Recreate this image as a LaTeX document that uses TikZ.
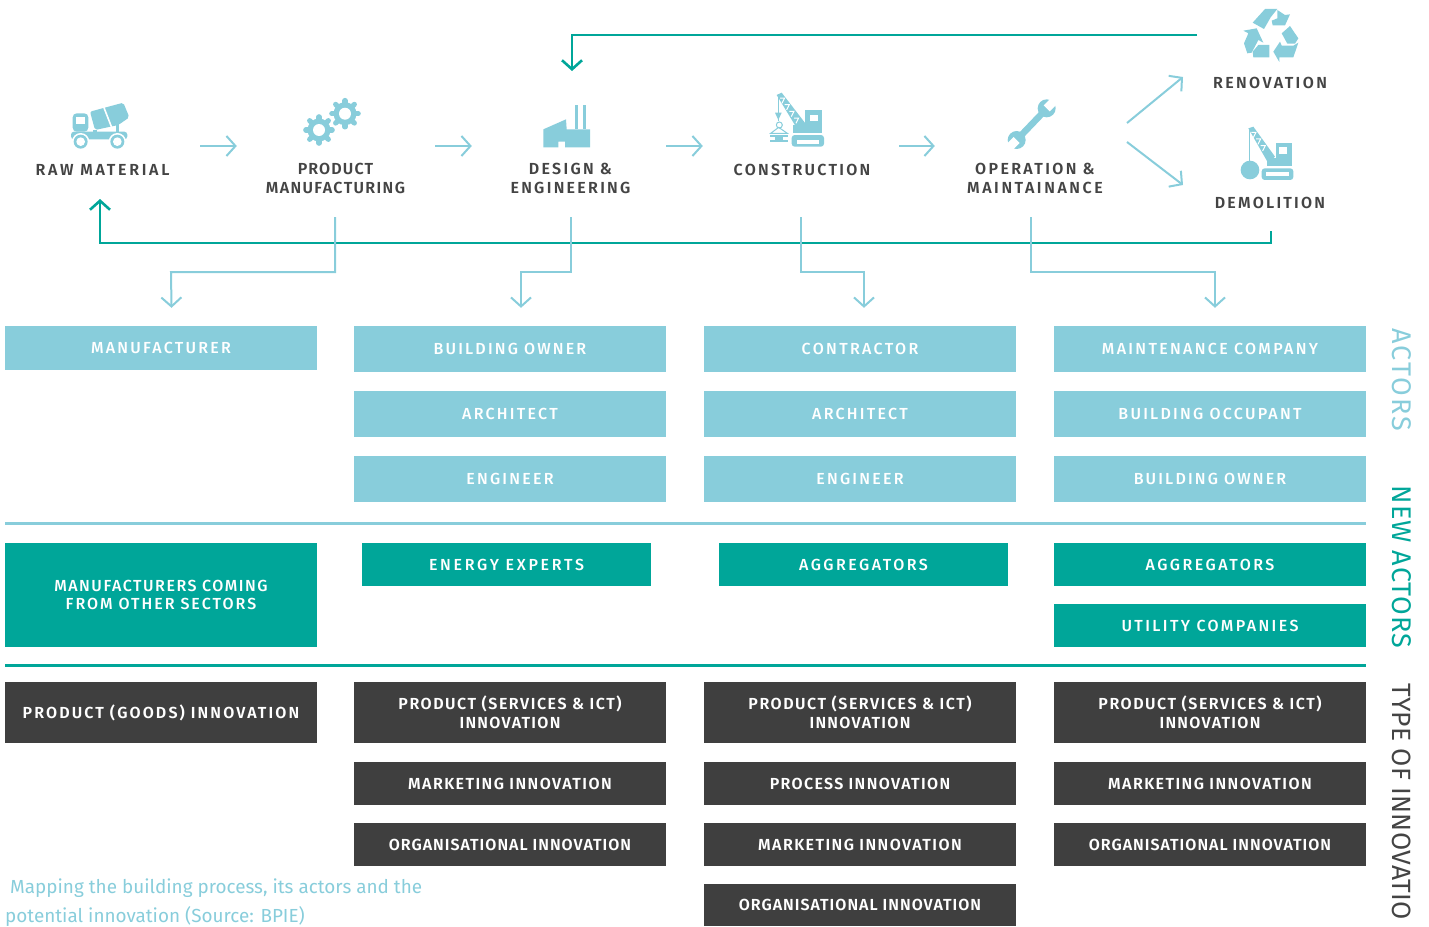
\documentclass[tikz,border=0pt]{standalone}
\usepackage{fontspec}
\setmainfont{Fira Sans}
\newfontfamily\din[LetterSpace=8]{Fira Sans Medium}
\newfontfamily\dinsemi[LetterSpace=8]{Fira Sans SemiBold}
\newfontfamily\dinreg[LetterSpace=6]{Fira Sans}
\usetikzlibrary{arrows.meta,calc}
\definecolor{lightc}{HTML}{88CDDB}
\definecolor{tealc}{HTML}{00A699}
\definecolor{darkc}{HTML}{3F3F3F}
\definecolor{textc}{HTML}{444444}
\newcommand{\ls}[1]{\addfontfeature{LetterSpace=#1}}
\newcommand{\dn}[2]{\raisebox{-1.2pt}{\ls{#1}#2}}
\tikzset{
  box/.style={inner sep=0pt,text=white,align=center,font=\din\fontsize{16}{19}\selectfont},
  lightbox/.style={box,fill=lightc},
  tealbox/.style={box,fill=tealc},
  darkbox/.style={box,fill=darkc,font=\dinsemi\fontsize{16}{19}\selectfont},
  stagearea/.style={minimum width=196pt,minimum height=142pt,inner sep=0pt},
  steplabel/.style={text=textc,align=center,inner sep=0pt,font=\dinsemi\fontsize{16}{19}\selectfont},
  flow/.style={draw=lightc,line width=2pt,-{Straight Barb[length=9pt,width=20pt,line width=2pt]}},
  loopline/.style={draw=tealc,line width=2.6pt,-{Straight Barb[length=9pt,width=20pt,line width=2.6pt]}},
  sidetext/.style={rotate=-90,anchor=west,inner sep=0pt,font=\dinreg\fontsize{27}{30}\selectfont},
  icon/.style={fill=lightc,draw=none},
  zoomed/.style={x=0.33333pt,y=-0.33333pt}
}
\newcommand{\bx}[7][lightbox]{%
  \node[#1,minimum width={#5-#3},minimum height={#6-#4}] (#2) at ({(#3+#5)/2},{(#4+#6)/2}) {#7};}
\newcommand{\gearicon}[2]{%
  \foreach \a in {0,45,...,315}{\draw[lightc,line width=5.2pt,line cap=round] (#1,#2) -- ++(\a:13.2);}
  \fill[lightc] (#1,#2) circle (11.5);
  \fill[white] (#1,#2) circle (6);}
\begin{document}
\begin{tikzpicture}[x=1pt,y=-1pt]
\useasboundingbox (0,0) rectangle (1429,926);

% invisible stage areas that the connectors attach to
\node[stagearea] (rawarea) at (102,146) {};
\node[stagearea] (prodarea) at (335,146) {};
\node[stagearea] (designarea) at (570,146) {};
\node[stagearea] (constrarea) at (801,146) {};
\node[stagearea] (operarea) at (1033,146) {};

% stage labels
\node[steplabel] (raw) at (102.5,169.5) {\ls{17}RAW MATERIAL};
\node[steplabel] (prod) at (335.5,178) {\ls{7}PRODUCT\\\ls{8.5}MANUFACTURING};
\node[steplabel] (design) at (570.5,178) {\ls{14.3}DESIGN \&\\\ls{14.2}ENGINEERING};
\node[steplabel] (constr) at (802,169.5) {\ls{14}CONSTRUCTION};
\node[steplabel] (oper) at (1035,178) {\ls{14.7}OPERATION \&\\\ls{16}MAINTAINANCE};
\node[steplabel] (reno) at (1270,82.5) {\ls{15}RENOVATION};
\node[steplabel] (demo) at (1270,202.5) {\ls{14}DEMOLITION};

% truck
\begin{scope}[shift={(40,80)},zoomed]
  \fill[icon,rounded corners=3pt] (93,178) -- (93,155) -- (262,155) -- (262,178) -- cycle;
  \fill[icon,rounded corners=4pt] (98,155) -- (98,100) -- (145,100) -- (145,155) -- cycle;
  \fill[white] (108,132) -- (108,112) -- (136,112) -- (136,132) -- cycle;
  \fill[icon,rounded corners=2pt] (150,95) -- (250,68) -- (268,112) -- (235,135) -- (165,150) -- cycle;
  \fill[icon] (160,150) rectangle (170,158);
  \fill[icon] (228,130) rectangle (238,158);
  \draw[white,line width=1.6pt] (190,78) -- (218,150);
  \foreach \cx in {122,232}{
    \fill[white] (\cx,185) circle (26);
    \fill[lightc] (\cx,185) circle (21);
    \fill[white] (\cx,185) circle (13);}
\end{scope}

% gears
\gearicon{319}{130}
\gearicon{345}{113.7}

% factory
\begin{scope}[shift={(520,80)},zoomed]
  \fill[icon] (70,148) -- (138,118) -- (140,148) -- (210,148) -- (210,202) -- (135,202) -- (135,185) -- (115,185) -- (115,202) -- (70,202) -- cycle;
  \fill[icon] (165,75) rectangle (175,148);
  \fill[icon] (189,75) rectangle (199,148);
\end{scope}

% construction crane
\begin{scope}[shift={(520,80)},zoomed]
  \fill[icon] (855,90) rectangle (905,158);
  \fill[white] (870,105) rectangle (893,122);
  \fill[icon] (818,135) -- (860,135) -- (860,158) -- (818,158) -- cycle;
  \fill[icon] (770,45) -- (785,38) -- (860,135) -- (835,152) -- cycle;
  \foreach \p/\q in {786/52,800/72,814/92,828/112}{
    \draw[white,line width=1pt] (\p-6,\q+2) -- (\p+8,\q+2) -- (\p+0,\q+18);}
  \fill[icon,rounded corners=3pt] (815,165) rectangle (912,200);
  \fill[white] (830,180) rectangle (898,192);
  \draw[lightc,line width=1pt] (775,42) -- (775,122);
  \fill[icon] (765,98) -- (785,98) -- (775,120) -- cycle;
  \draw[lightc,line width=1pt] (778,135) circle (9);
  \draw[lightc,line width=1pt] (752,160) -- (776,142) -- (802,160) -- cycle;
  \fill[icon] (750,165) rectangle (805,172);
  \fill[icon] (765,172) rectangle (790,180);
  \fill[icon] (750,180) rectangle (805,187);
\end{scope}

% wrench
\begin{scope}[shift={(1000,0)},zoomed]
  \draw[lightc,line width=6.5pt] (138,328) -- (52,418);
  \fill[lightc] (140,325) circle (27);
  \fill[lightc] (50,420) circle (27);
  \fill[white] (149,334) -- (177,306) -- (159,288) -- (131,316) -- cycle;
  \fill[white] (41,411) -- (13,439) -- (31,457) -- (59,429) -- cycle;
\end{scope}

% recycling symbol
\begin{scope}[shift={(1000,0)},zoomed]
  \fill[icon] (758,68) -- (795,27) -- (832,27) -- (812,52) -- (792,87) -- cycle;
  \fill[icon] (832,30) -- (855,45) -- (870,43) -- (855,76) -- (818,76) -- (815,62) -- (832,55) -- cycle;
  \fill[icon] (845,100) -- (870,78) -- (895,115) -- (885,131) -- (862,131) -- cycle;
  \fill[icon] (895,128) -- (880,172) -- (838,172) -- (838,186) -- (820,155) -- (840,125) -- (845,137) -- (880,137) -- cycle;
  \fill[icon] (730,92) -- (770,85) -- (790,128) -- (775,120) -- (755,158) -- (742,160) -- (732,130) -- (745,100) -- cycle;
  \fill[icon] (760,172) -- (758,155) -- (775,135) -- (808,135) -- (808,172) -- cycle;
\end{scope}

% demolition crane
\begin{scope}[shift={(1000,0)},zoomed]
  \fill[icon] (828,430) rectangle (875,497);
  \fill[white] (838,442) rectangle (862,462);
  \fill[icon] (800,475) rectangle (875,497);
  \fill[icon] (745,385) -- (760,380) -- (825,470) -- (805,490) -- cycle;
  \foreach \p/\q in {760/395,774/415,788/435}{
    \draw[white,line width=1pt] (\p-6,\q+2) -- (\p+8,\q+2) -- (\p+0,\q+18);}
  \fill[icon,rounded corners=3pt] (785,505) rectangle (880,540);
  \fill[white] (797,517) rectangle (868,527);
  \draw[lightc,line width=1pt] (749,385) -- (749,490);
  \fill[lightc] (750,510) circle (28);
\end{scope}

% flow arrows
\draw[flow] (rawarea.east) -- (prodarea.west);
\draw[flow,shorten <=2pt] (prodarea.east) -- (designarea.west);
\draw[flow,shorten <=-2pt] (designarea.east) -- (constrarea.west);
\draw[flow] (constrarea.east) -- (operarea.west);

\coordinate (uptostart) at (1127,123);
\coordinate (uptoend) at (1183,77);
\coordinate (downstart) at (1127,142);
\coordinate (downend) at (1183,185);
\draw[flow] (uptostart) -- (uptoend);
\draw[flow] (downstart) -- (downend);

% loops
\coordinate (looptopstart) at (1197,35);
\coordinate (looptopend) at (572,71);
\draw[loopline] (looptopstart) -| (looptopend);
\coordinate (loopbotstart) at (1271,231);
\coordinate (loopbotturn) at (1271,243);
\coordinate (loopbotend) at (100,199);
\draw[loopline] (loopbotstart) -- (loopbotturn) -| (loopbotend);

% boxes: actors
\bx{mfr}{5}{326}{317}{370}{\dn{14}{MANUFACTURER}}
\bx{owner}{354}{326}{666}{372}{\dn{13.5}{BUILDING OWNER}}
\bx{archa}{354}{391}{666}{437}{\dn{14}{ARCHITECT}}
\bx{enga}{354}{456}{666}{502}{\dn{14}{ENGINEER}}
\bx{contr}{704}{326}{1016}{372}{\dn{14.5}{CONTRACTOR}}
\bx{archb}{704}{391}{1016}{437}{\dn{14}{ARCHITECT}}
\bx{engb}{704}{456}{1016}{502}{\dn{14}{ENGINEER}}
\bx{maint}{1054}{326}{1366}{372}{\dn{14.5}{MAINTENANCE COMPANY}}
\bx{occup}{1054}{391}{1366}{437}{\dn{14}{BUILDING OCCUPANT}}
\bx{ownerb}{1054}{456}{1366}{502}{\dn{13.5}{BUILDING OWNER}}

% boxes: new actors
\bx[tealbox]{mfrother}{5}{543}{317}{647}{\raisebox{-1.2pt}{\ls{9.5}MANUFACTURERS COMING}\\\raisebox{-0.5pt}{\ls{12.5}FROM OTHER SECTORS}}
\bx[tealbox]{energy}{362}{543}{651}{586}{\dn{17}{ENERGY EXPERTS}}
\bx[tealbox]{agga}{719}{543}{1008}{586}{\dn{15.5}{AGGREGATORS}}
\bx[tealbox]{aggb}{1054}{543}{1366}{586}{\dn{15.5}{AGGREGATORS}}
\bx[tealbox]{utility}{1054}{604}{1366}{647}{\dn{15}{UTILITY COMPANIES}}

% boxes: innovation
\bx[darkbox]{goods}{5}{682}{317}{743}{\dn{13.2}{PRODUCT (GOODS) INNOVATION}}
\bx[darkbox]{psa}{354}{682}{666}{743}{\ls{9.6}PRODUCT (SERVICES \& ICT)\\INNOVATION}
\bx[darkbox]{mka}{354}{762}{666}{805}{\dn{9}{MARKETING INNOVATION}}
\bx[darkbox]{orga}{354}{823}{666}{866}{\dn{6.3}{ORGANISATIONAL INNOVATION}}
\bx[darkbox]{psb}{704}{682}{1016}{743}{\ls{9.6}PRODUCT (SERVICES \& ICT)\\INNOVATION}
\bx[darkbox]{procb}{704}{762}{1016}{805}{\dn{8.4}{PROCESS INNOVATION}}
\bx[darkbox]{mkb}{704}{823}{1016}{866}{\dn{9}{MARKETING INNOVATION}}
\bx[darkbox]{orgb}{704}{884}{1016}{926}{\dn{6.3}{ORGANISATIONAL INNOVATION}}
\bx[darkbox]{psc}{1054}{682}{1366}{743}{\ls{9.6}PRODUCT (SERVICES \& ICT)\\INNOVATION}
\bx[darkbox]{mkc}{1054}{762}{1366}{805}{\dn{9}{MARKETING INNOVATION}}
\bx[darkbox]{orgc}{1054}{823}{1366}{866}{\dn{6.3}{ORGANISATIONAL INNOVATION}}

% stage to actor connectors
\coordinate (ma) at (171,272);
\coordinate (mb) at (521,272);
\coordinate (mc) at (864,272);
\coordinate (md) at (1215,272);
\draw[flow] (prodarea.south) |- (ma) -- ($(mfr.north)+(10.5,-18)$);
\draw[flow] ($(designarea.south)+(1,0)$) |- (mb) -- ($(owner.north)+(11,-18)$);
\draw[flow] (constrarea.south) |- (mc) -- ($(contr.north)+(4,-18)$);
\draw[flow] ($(operarea.south)+(-2,0)$) |- (md) -- ($(maint.north)+(5,-18)$);

% divider lines
\coordinate (dla) at (5,523.5);
\coordinate (dlb) at (1366,523.5);
\coordinate (dta) at (5,665.5);
\coordinate (dtb) at (1366,665.5);
\draw[lightc,line width=2.4pt] (dla) -- (dlb);
\draw[tealc,line width=2.4pt] (dta) -- (dtb);

% side labels
\node[sidetext,text=lightc] (sidea) at (1402,328) {\ls{8}ACTORS};
\node[sidetext,text=tealc] (sideb) at (1402,485.5) {\ls{3.5}NEW ACTORS};
\node[sidetext,text=textc,font=\dinreg\fontsize{26.4}{30}\selectfont] (sidec) at (1402,683) {\ls{1}TYPE OF INNOVATIO};

% caption
\node[anchor=west,inner sep=0pt,text=lightc,font=\fontsize{18.9}{24}\selectfont] (capa) at (10,888) {Mapping the building process, its actors and the};
\node[anchor=west,inner sep=0pt,text=lightc,font=\fontsize{18.9}{24}\selectfont] (capb) at (5,917) {potential innovation (Source: BPIE)};
\end{tikzpicture}
\end{document}
